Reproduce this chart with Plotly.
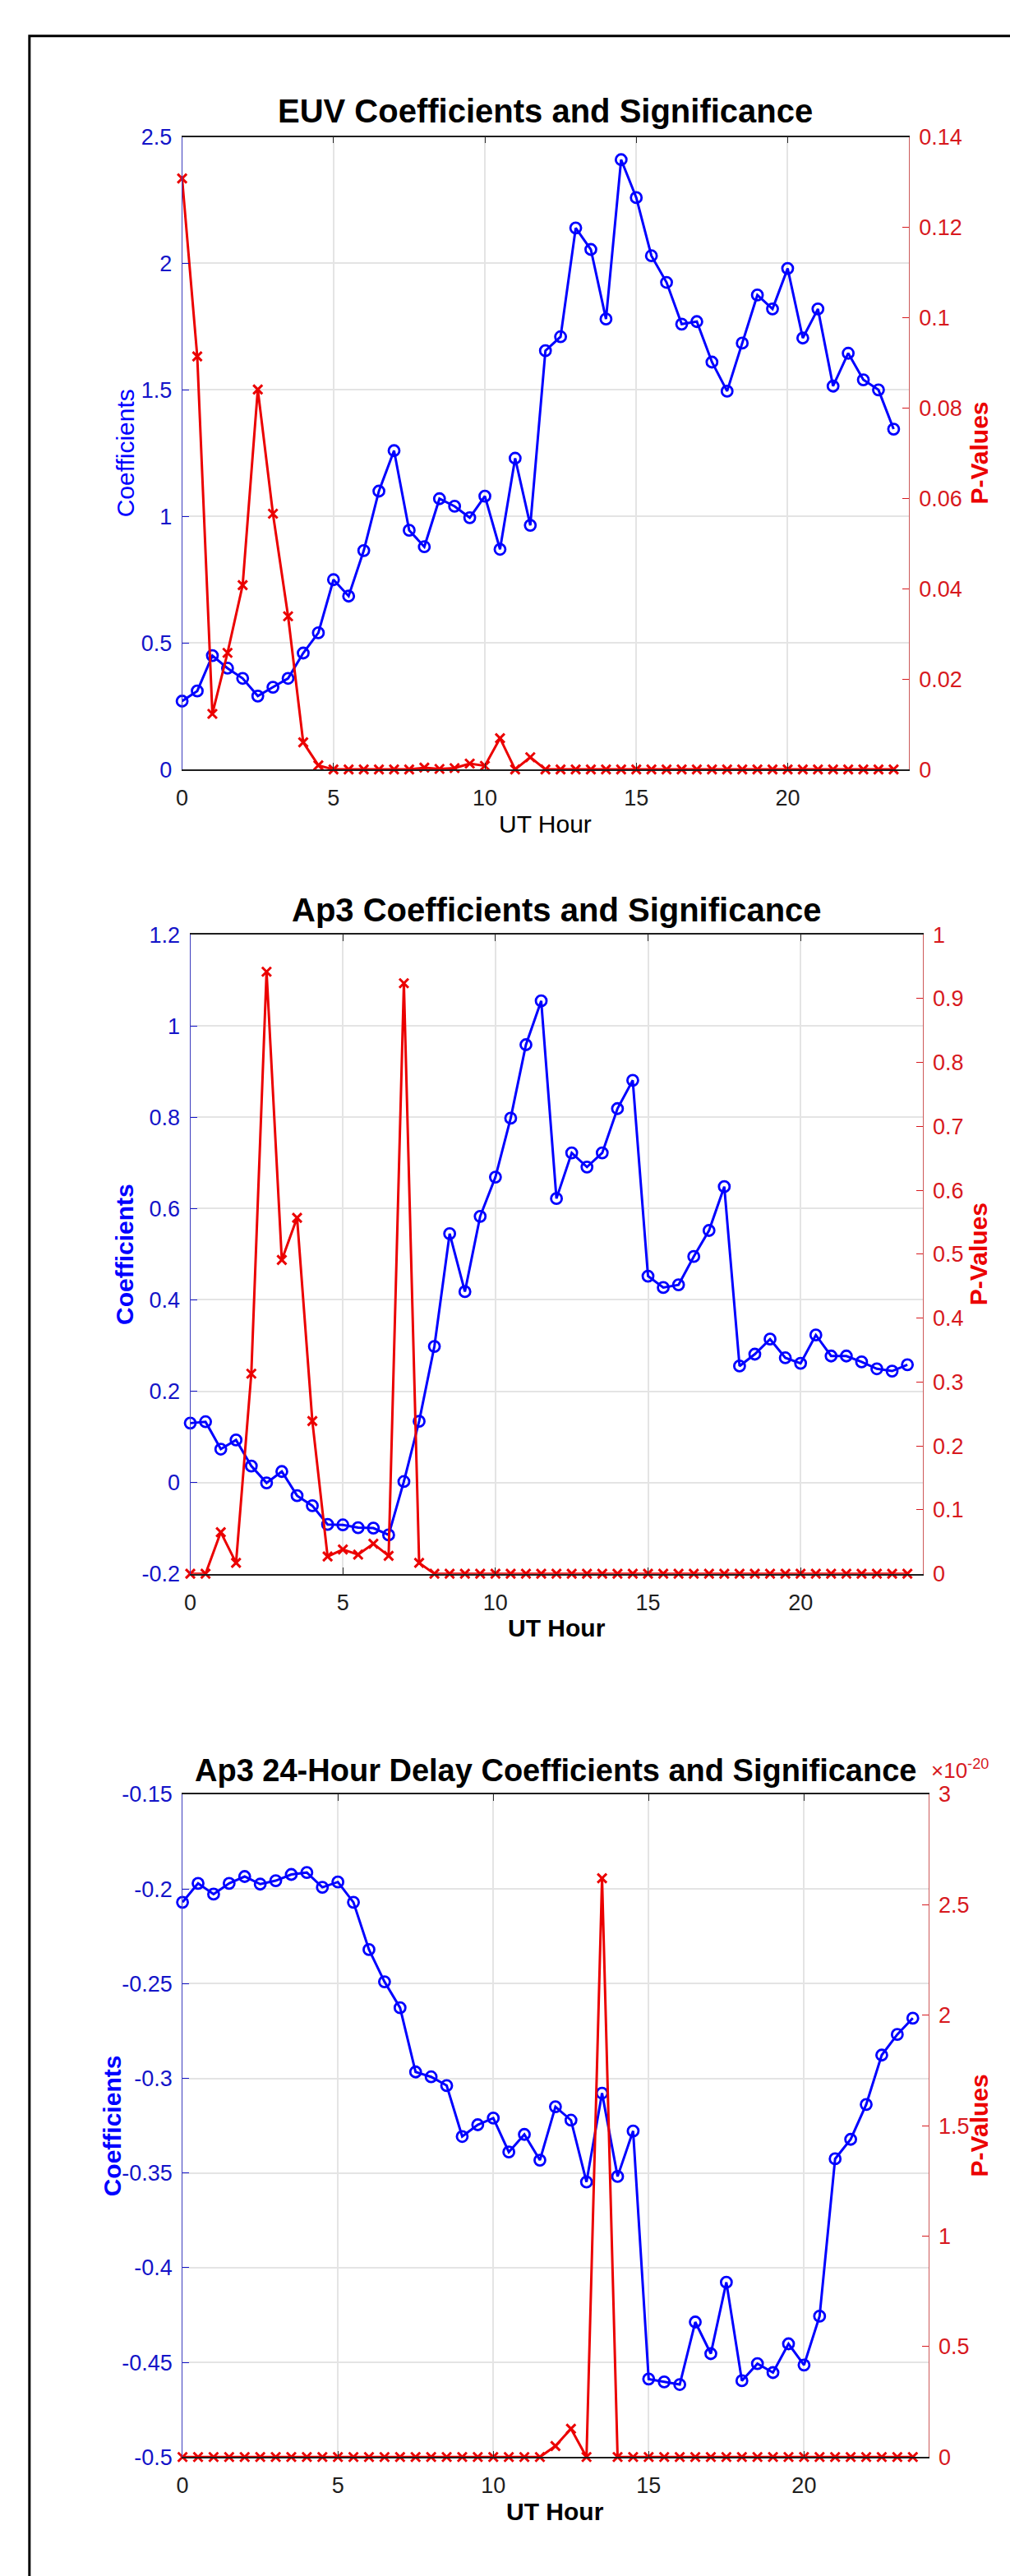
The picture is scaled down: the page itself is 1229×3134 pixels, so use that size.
import plotly.graph_objects as go

W, H = 1229, 3134

hours = [0, 0.5, 1, 1.5, 2, 2.5, 3, 3.5, 4, 4.5, 5, 5.5, 6, 6.5, 7, 7.5, 8, 8.5, 9, 9.5,
         10, 10.5, 11, 11.5, 12, 12.5, 13, 13.5, 14, 14.5, 15, 15.5, 16, 16.5, 17, 17.5,
         18, 18.5, 19, 19.5, 20, 20.5, 21, 21.5, 22, 22.5, 23, 23.5]

euv_coef = [0.27, 0.31, 0.45, 0.40, 0.36, 0.29, 0.325, 0.36, 0.46, 0.54, 0.75, 0.685,
            0.865, 1.10, 1.26, 0.945, 0.88, 1.07, 1.04, 0.995, 1.08, 0.87, 1.23, 0.965,
            1.655, 1.71, 2.14, 2.055, 1.78, 2.41, 2.26, 2.03, 1.925, 1.76, 1.77, 1.61,
            1.495, 1.685, 1.875, 1.82, 1.98, 1.705, 1.82, 1.515, 1.645, 1.54, 1.50, 1.345]
euv_p = [0.1308, 0.0914, 0.0123, 0.0258, 0.0408, 0.0841, 0.0566, 0.0339, 0.0060, 0.0009,
         0, 0, 0, 0, 0, 0, 0.0004, 0.0001, 0.0003, 0.0013, 0.0008, 0.0069, 0, 0.0027,
         0, 0, 0, 0, 0, 0, 0, 0, 0, 0, 0, 0, 0, 0, 0, 0, 0, 0, 0, 0, 0, 0, 0, 0]

ap3_coef = [0.130, 0.133, 0.073, 0.093, 0.036, -0.001, 0.024, -0.029, -0.051, -0.092,
            -0.093, -0.099, -0.100, -0.115, 0.002, 0.134, 0.298, 0.545, 0.418, 0.583,
            0.669, 0.798, 0.959, 1.055, 0.622, 0.722, 0.691, 0.722, 0.819, 0.881,
            0.452, 0.427, 0.433, 0.495, 0.552, 0.648, 0.255, 0.281, 0.314, 0.273,
            0.261, 0.323, 0.277, 0.277, 0.264, 0.249, 0.244, 0.258]
ap3_p = [0, 0, 0.065, 0.017, 0.313, 0.942, 0.491, 0.557, 0.239, 0.027, 0.038, 0.030,
         0.047, 0.028, 0.924, 0.017, 0, 0, 0, 0, 0, 0, 0, 0, 0, 0, 0, 0, 0, 0, 0, 0,
         0, 0, 0, 0, 0, 0, 0, 0, 0, 0, 0, 0, 0, 0, 0, 0]

ap3d_coef = [-0.207, -0.197, -0.2027, -0.197, -0.1934, -0.1974, -0.1956, -0.1923, -0.1913,
             -0.1991, -0.1963, -0.207, -0.232, -0.249, -0.2627, -0.2966, -0.2992, -0.3038,
             -0.3307, -0.3245, -0.321, -0.3389, -0.3296, -0.3432, -0.315, -0.3221, -0.3547,
             -0.3078, -0.3518, -0.3278, -0.4588, -0.4603, -0.4617, -0.4287, -0.4454, -0.4077,
             -0.4597, -0.4507, -0.4554, -0.4402, -0.4514, -0.4256, -0.3425, -0.3322, -0.3138,
             -0.2877, -0.2768, -0.2682]
# p-values in units of 1e-20
ap3d_p_e20 = [0, 0, 0, 0, 0, 0, 0, 0, 0, 0, 0, 0, 0, 0, 0, 0, 0, 0, 0, 0, 0, 0, 0, 0,
              0.05, 0.128, 0, 2.62, 0, 0, 0, 0, 0, 0, 0, 0, 0, 0, 0, 0, 0, 0, 0, 0, 0, 0, 0, 0]

titles = ["EUV Coefficients and Significance", "Ap3 Coefficients and Significance",
          "Ap3 24-Hour Delay Coefficients and Significance"]
x_ticks = [0, 5, 10, 15, 20]
x_ticktext = ["0", "5", "10", "15", "20"]

y1_ticks = [0, 0.5, 1, 1.5, 2, 2.5]
y1_text = ["0", "0.5", "1", "1.5", "2", "2.5"]
y2_ticks = [0, 0.02, 0.04, 0.06, 0.08, 0.1, 0.12, 0.14]
y2_text = ["0", "0.02", "0.04", "0.06", "0.08", "0.1", "0.12", "0.14"]
y3_ticks = [-0.2, 0, 0.2, 0.4, 0.6, 0.8, 1, 1.2]
y3_text = ["-0.2", "0", "0.2", "0.4", "0.6", "0.8", "1", "1.2"]
y4_ticks = [0, 0.1, 0.2, 0.3, 0.4, 0.5, 0.6, 0.7, 0.8, 0.9, 1]
y4_text = ["0", "0.1", "0.2", "0.3", "0.4", "0.5", "0.6", "0.7", "0.8", "0.9", "1"]
y5_ticks = [-0.5, -0.45, -0.4, -0.35, -0.3, -0.25, -0.2, -0.15]
y5_text = ["-0.5", "-0.45", "-0.4", "-0.35", "-0.3", "-0.25", "-0.2", "-0.15"]
y6_ticks = [0, 0.5, 1, 1.5, 2, 2.5, 3]
y6_text = ["0", "0.5", "1", "1.5", "2", "2.5", "3"]

FONT = "Liberation Sans, Arial, Helvetica, sans-serif"
BLUE = "rgb(0,0,255)"
RED = "rgb(235,0,0)"
BLUE_T = "rgb(20,20,200)"
RED_T = "rgb(215,25,30)"
GRID = "rgb(228,228,228)"


def px(x):
    return x / W


def py(y):
    return 1 - y / H


# axis boxes in pixels: (left, right, top, bottom)
boxes = [(215, 1105, 153, 930), (225, 1122, 1133, 1918), (215.5, 1129, 2189, 3003)]

fig = go.Figure()

series = [
    (euv_coef, euv_p, "x", "y", "y2"),
    (ap3_coef, ap3_p, "x2", "y3", "y4"),
    (ap3d_coef, ap3d_p_e20, "x3", "y5", "y6"),
]
for coef, pv, xa, ya, yb in series:
    fig.add_trace(go.Scatter(x=hours, y=coef, xaxis=xa, yaxis=ya, mode="lines+markers",
                             line=dict(color=BLUE, width=3),
                             marker=dict(symbol="circle-open", size=13, color=BLUE,
                                         line=dict(color=BLUE, width=2.8)),
                             cliponaxis=False, showlegend=False))
    fig.add_trace(go.Scatter(x=hours, y=pv, xaxis=xa, yaxis=yb, mode="lines+markers",
                             line=dict(color=RED, width=3),
                             marker=dict(symbol="x-thin-open", size=11, color=RED,
                                         line=dict(color=RED, width=3)),
                             cliponaxis=False, showlegend=False))

layout = dict(width=W, height=H, margin=dict(l=0, r=0, t=0, b=0),
              paper_bgcolor="white", plot_bgcolor="white",
              font=dict(family=FONT, size=26, color="rgb(30,30,30)"))

yspecs = [
    ([0, 2.5], y1_ticks, y1_text, [0, 0.14], y2_ticks, y2_text),
    ([-0.2, 1.2], y3_ticks, y3_text, [0, 1], y4_ticks, y4_text),
    ([-0.5, -0.15], y5_ticks, y5_text, [0, 3], y6_ticks, y6_text),
]
for k, (box, spec) in enumerate(zip(boxes, yspecs)):
    l, r, t, b = box
    xname = "xaxis" if k == 0 else f"xaxis{k + 1}"
    yl = f"yaxis{2 * k + 1}" if k > 0 else "yaxis"
    yr = f"yaxis{2 * k + 2}"
    yl_ref = "y" if k == 0 else f"y{2 * k + 1}"
    x_ref = "x" if k == 0 else f"x{k + 1}"
    layout[xname] = dict(domain=[px(l), px(r)], anchor=yl_ref, range=[0, 24],
                         tickvals=x_ticks, ticktext=x_ticktext, ticks="inside", ticklen=8,
                         tickcolor="rgb(40,40,40)", showline=True, linecolor="rgb(30,30,30)",
                         linewidth=1.5, mirror="ticks", showgrid=True, gridcolor=GRID,
                         gridwidth=1.5, zeroline=False, ticklabelstandoff=10,
                         tickfont=dict(size=27, color="rgb(30,30,30)"))
    layout[yl] = dict(domain=[py(b), py(t)], anchor=x_ref, range=spec[0], tickvals=spec[1],
                      ticktext=spec[2], ticks="inside", ticklen=8, tickcolor=BLUE_T,
                      showline=True, linecolor="rgb(60,60,190)", linewidth=1,
                      showgrid=True, gridcolor=GRID, gridwidth=1.5, zeroline=False,
                      ticklabelstandoff=6, tickfont=dict(size=27, color=BLUE_T))
    layout[yr] = dict(overlaying=yl_ref, anchor=x_ref, side="right", range=spec[3],
                      tickvals=spec[4], ticktext=spec[5], ticks="inside", ticklen=8,
                      tickcolor=RED_T, showline=True, linecolor="rgb(205,90,90)", linewidth=1,
                      showgrid=False, zeroline=False, ticklabelstandoff=6,
                      tickfont=dict(size=27, color=RED_T))

fig.update_layout(**layout)

ann = []
title_y = [121, 1103, 2160]
title_size = [40, 40, 38]
for k, (box, ttl) in enumerate(zip(boxes, titles)):
    l, r, t, b = box
    ann.append(dict(text=f"<b>{ttl}</b>", x=px((l + r) / 2), y=py(title_y[k]), xref="paper",
                    yref="paper", xanchor="center", yanchor="middle", showarrow=False,
                    font=dict(size=title_size[k], color="black", family=FONT)))
    bold = k > 0
    lab_c = "<b>Coefficients</b>" if bold else "Coefficients"
    lab_x = "<b>UT Hour</b>" if bold else "UT Hour"
    cx = [145, 145, 129][k]
    ann.append(dict(text=lab_c, x=px(cx), y=py((t + b) / 2), xref="paper", yref="paper",
                    xanchor="center", yanchor="middle", textangle=-90, showarrow=False,
                    font=dict(size=30, color=BLUE, family=FONT)))
    ann.append(dict(text="<b>P-Values</b>", x=px(1191), y=py((t + b) / 2), xref="paper",
                    yref="paper", xanchor="center", yanchor="middle", textangle=-90,
                    showarrow=False, font=dict(size=30, color=RED, family=FONT)))
    ann.append(dict(text=lab_x, x=px((l + r) / 2), y=py(b + 67), xref="paper", yref="paper",
                    xanchor="center", yanchor="middle", showarrow=False,
                    font=dict(size=30, color="black", family=FONT)))

ann.append(dict(text="\u00d710<sup>-20</sup>", x=px(1130), y=py(2158), xref="paper",
                yref="paper", xanchor="left", yanchor="middle", showarrow=False,
                font=dict(size=26, color=RED_T, family=FONT)))
fig.update_layout(annotations=ann)

fig.add_shape(type="rect", xref="paper", yref="paper", x0=px(28), x1=1.05, y0=-0.05,
              y1=py(29), line=dict(color="black", width=3), fillcolor="rgba(0,0,0,0)",
              layer="above")

fig.write_html("out.html", config={"displayModeBar": False},
               post_script="document.body.style.margin='0';")
